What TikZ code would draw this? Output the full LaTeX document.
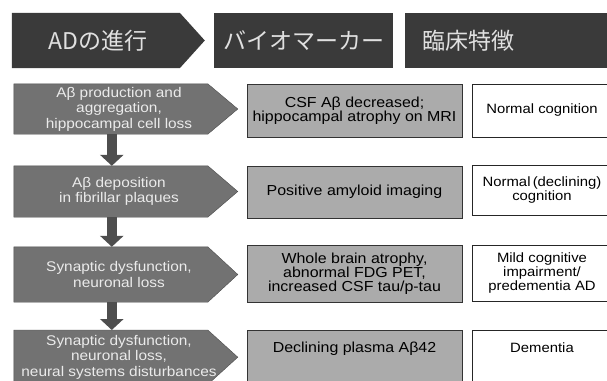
\documentclass[tikz,border=0pt]{standalone}
\usepackage{fontspec}
\setmainfont{Liberation Sans}[FakeStretch=1.1]
\newfontfamily\cjk{Noto Sans CJK JP}
\usetikzlibrary{arrows.meta,backgrounds}

\definecolor{headgray}{HTML}{3A3A3A}
\definecolor{stagegray}{HTML}{727272}
\definecolor{markgray}{HTML}{ABABAB}
\definecolor{arrowgray}{HTML}{4E4E4E}

\tikzset{
  head/.style={inner sep=0pt, minimum height=55pt, text=white!88!black,
    font=\cjk\fontsize{23}{23}\selectfont},
  stage/.style={inner sep=0pt, minimum width=210pt, text=white!92!black,
    align=center, font=\fontsize{14}{15.5}\selectfont},
  marker/.style={draw=black!80, fill=markgray, inner sep=0pt, minimum width=215pt,
    align=center, font=\fontsize{14.5}{14}\selectfont},
  clinic/.style={draw=black!85, fill=white, inner sep=0pt, minimum width=140pt,
    align=center, font=\fontsize{13.5}{14}\selectfont},
  godown/.style={arrowgray, line width=10pt, -{Triangle[width=23pt,length=11pt]}},
}

\begin{document}
\begin{tikzpicture}[x=1pt, y=-1pt]
  \useasboundingbox (0,0) rectangle (607,380);
  \clip (0,0) rectangle (607,380);

  % header row
  \node[head, minimum width=172pt] (h1) at (98,40.5) {ADの進行};
  \node[head, fill=headgray, minimum width=179pt] (h2) at (303.5,40.5) {バイオマーカー};
  \node[head, fill=headgray, anchor=west, minimum width=215pt, inner xsep=17pt,
    text width=181pt, align=left] (h3) at (405,40.5) {臨床特徴};

  % AD progression
  \node[stage, minimum height=50pt] (s1) at (119,109)
    {Aβ production and\\aggregation,\\hippocampal cell loss};
  \node[stage, minimum height=51pt] (s2) at (119,191.5)
    {Aβ deposition\\in fibrillar plaques};
  \node[stage, minimum height=55pt] (s3) at (119,274.5)
    {Synaptic dysfunction,\\neuronal loss};
  \node[stage, minimum height=54pt, anchor=north] (s4) at (119,330)
    {Synaptic dysfunction,\\neuronal loss,\\neural systems disturbances};

  % biomarkers
  \node[marker, minimum height=53pt] (m1) at (354.5,110.5)
    {CSF Aβ decreased;\\hippocampal atrophy on MRI};
  \node[marker, minimum height=52pt] (m2) at (354.5,192) {Positive amyloid imaging};
  \node[marker, minimum height=57pt] (m3) at (354.5,273.5)
    {Whole brain atrophy,\\abnormal FDG PET,\\increased CSF tau/p-tau};
  \node[marker, anchor=north, inner ysep=0pt, text height=22pt, text depth=38pt] (m4)
    at (354.5,330) {Declining plasma Aβ42};

  % clinical features
  \node[clinic, minimum height=53pt] (c1) at (542,110.5) {Normal cognition};
  \node[clinic, minimum height=50pt] (c2) at (542,190.5)
    {Normal\,(declining)\\cognition};
  \node[clinic, minimum height=56pt] (c3) at (542,273)
    {Mild cognitive\\impairment/\\predementia AD};
  \node[clinic, anchor=north, inner ysep=0pt, text height=22pt, text depth=38pt] (c4)
    at (542,330) {Dementia};

  \begin{scope}[on background layer]
    \fill[headgray] (h1.north west) -- ++(168,0) -- ([xshift=193pt]h1.west)
      -- ([xshift=168pt]h1.south west) -- (h1.south west) -- cycle;
    \foreach \n in {s1,s2,s3,s4}
      \filldraw[fill=stagegray, draw=black!70] (\n.north west) -- ++(194,0)
        -- ([xshift=224pt]\n.west) -- ([xshift=194pt]\n.south west)
        -- (\n.south west) -- cycle;
  \end{scope}

  \foreach \a/\b in {s1/s2,s2/s3,s3/s4}
    \draw[godown] ([xshift=98pt]\a.south west) -- ([xshift=98pt]\b.north west);
\end{tikzpicture}
\end{document}
